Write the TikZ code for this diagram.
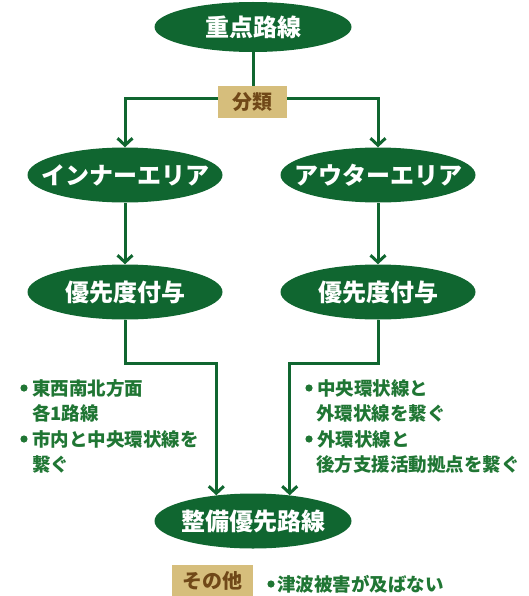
\documentclass[tikz,border=0pt]{standalone}
\usepackage{fontspec}
\newfontfamily\jp{Noto Sans CJK JP}
\usetikzlibrary{arrows.meta,shapes.geometric}
\definecolor{dg}{RGB}{16,102,48}
\definecolor{tg}{RGB}{32,118,52}
\definecolor{tanbox}{RGB}{214,190,124}
\definecolor{brn}{RGB}{112,72,24}
\newcommand{\elltxt}[1]{\makebox[0pt][c]{#1}}
\begin{document}
\begin{tikzpicture}[x=1pt,y=-1pt,
  ell/.style={ellipse, fill=dg, inner sep=0pt, minimum width=195pt, minimum height=55pt,
    text=white, font=\jp\bfseries\fontsize{24}{24}\selectfont},
  tagbox/.style={fill=tanbox, inner sep=0pt, text=brn, font=\jp\bfseries\fontsize{20}{20}\selectfont},
  conn/.style={draw=dg, line width=3pt},
  arr/.style={conn, -{Straight Barb[length=7pt,width=15pt]}},
  note/.style={anchor=west, inner sep=0pt, text=tg,
    font=\jp\bfseries\fontsize{18.5}{18.5}\selectfont},
  dot/.style={fill=tg}
]
\useasboundingbox (0,0) rectangle (528,596);

\node[ell, minimum width=197pt, minimum height=50pt] (top) at (253,27) {\elltxt{重点路線}};
\node[ell] (l1) at (125,175) {\elltxt{インナーエリア}};
\node[ell] (r1) at (378,175) {\elltxt{アウターエリア}};
\node[ell] (l2) at (125,292) {\elltxt{優先度付与}};
\node[ell] (r2) at (378,292) {\elltxt{優先度付与}};
\node[ell, minimum width=197pt] (be) at (253,521) {\elltxt{整備優先路線}};

\coordinate (hk) at (0,99);
\coordinate (lk) at (0,363);

\draw[conn] (top.south) -- (top.south |- hk);
\draw[arr] (top.south |- hk) -| (l1.north);
\draw[arr] (top.south |- hk) -| (r1.north);
\node[tagbox, minimum width=69pt, minimum height=32pt] (cls) at (252.5,102) {分類};

\draw[arr] (l1.south) -- (l2.north);
\draw[arr] (r1.south) -- (r2.north);

\draw[arr] (l2.south) -- (l2.south |- lk) -| (be.145);
\draw[arr] (r2.south) -- (r2.south |- lk) -| (be.35);

\fill[dot] (24,388) circle (3.6pt);
\fill[dot] (24,439) circle (3.6pt);
\node[note] (nl1) at (32,388) {東西南北方面};
\node[note] (nl2) at (32,413) {各1路線};
\node[note] (nl3) at (32,439) {市内と中央環状線を};
\node[note] (nl4) at (32,464) {繋ぐ};

\fill[dot] (309,388) circle (3.6pt);
\fill[dot] (309,439) circle (3.6pt);
\node[note] (nr1) at (317,388) {中央環状線と};
\node[note] (nr2) at (316,413) {外環状線を繋ぐ};
\node[note] (nr3) at (317,439) {外環状線と};
\node[note] (nr4) at (316,464) {後方支援活動拠点を繋ぐ};

\node[tagbox, minimum width=81pt, minimum height=31pt] (oth) at (212.5,580.5) {その他};
\fill[dot] (271,584) circle (3.6pt);
\node[note] (nb) at (277,584) {津波被害が及ばない};
\end{tikzpicture}
\end{document}
